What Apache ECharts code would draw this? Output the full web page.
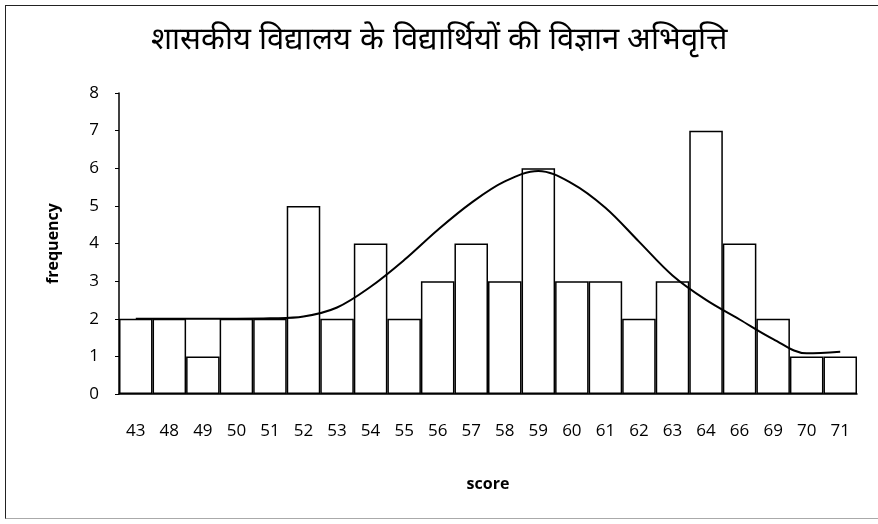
<!DOCTYPE html>
<html lang="hi">
<head>
    <meta charset="UTF-8">
    <title>विज्ञान अभिवृत्ति</title>
    <style>
        html, body { margin: 0; padding: 0; background: #fff; overflow: hidden; }
        .box {
            position: absolute;
            left: 5px;
            top: 5px;
            width: 880px;
            height: 512px;
            border-top: 1.5px solid #222;
            border-left: 1.5px solid #222;
            border-bottom: 1px solid #aaa;
        }
        #chart { position: absolute; left: 0; top: 0; width: 878px; height: 524px; }
    </style>
    <script src="https://cdn.jsdelivr.net/npm/echarts@6/dist/echarts.min.js"></script>
</head>
<body>
    <div class="box"></div>
    <div id="chart"></div>
    <script>
        // अंक (score) और आवृत्ति (frequency)
        const scores = ['43', '48', '49', '50', '51', '52', '53', '54', '55', '56', '57',
                        '58', '59', '60', '61', '62', '63', '64', '66', '69', '70', '71'];
        const frequency = [2, 2, 1, 2, 2, 5, 2, 4, 2, 3, 4, 3, 6, 3, 3, 2, 3, 7, 4, 2, 1, 1];
        // चिकना वक्र (curve)
        const curve = [2, 2, 2, 2, 2.01, 2.06, 2.3, 2.85, 3.56, 4.36, 5.08, 5.65, 5.93,
                       5.6, 4.95, 4.05, 3.15, 2.5, 1.98, 1.46, 1.08, 1.12];
        const yTicks = [0, 1, 2, 3, 4, 5, 6, 7, 8];

        const font = 'Open Sans, Noto Sans, sans-serif';
        let chart = echarts.init(document.getElementById('chart'));

        let option = {
            animation: false,
            title: {
                text: 'शासकीय विद्यालय के विद्यार्थियों की विज्ञान अभिवृत्ति',
                left: 'center',
                top: 20,
                textStyle: { fontSize: 31, fontWeight: 'normal', color: '#000', fontFamily: 'sans-serif' }
            },
            grid: { left: 119, right: 21, top: 93, bottom: 130 },
            xAxis: {
                type: 'category',
                data: scores,
                name: 'score',
                nameLocation: 'middle',
                nameGap: 82,
                nameTextStyle: { fontSize: 16, fontWeight: 'bold', color: '#000', fontFamily: font },
                axisLine: { lineStyle: { color: '#000', width: 1.5 } },
                axisTick: { show: false },
                axisLabel: { margin: 29, fontSize: 17, color: '#000', fontFamily: font, interval: 0 }
            },
            yAxis: {
                type: 'value',
                min: yTicks[0],
                max: yTicks[yTicks.length - 1],
                interval: 1,
                name: 'frequency',
                nameLocation: 'middle',
                nameGap: 58,
                nameTextStyle: { fontSize: 16, fontWeight: 'bold', color: '#000', fontFamily: font },
                axisLine: { show: true, lineStyle: { color: '#000', width: 1.5 } },
                axisTick: { show: true, length: 4, lineStyle: { color: '#000' } },
                splitLine: { show: false },
                axisLabel: { margin: 20, fontSize: 17, color: '#000', fontFamily: font }
            },
            series: [{
                type: 'bar',
                data: frequency,
                barCategoryGap: 0,
                itemStyle: { color: '#fff', borderColor: '#000', borderWidth: 1.5 }
            }, {
                type: 'line',
                data: curve,
                smooth: 0.35,
                showSymbol: false,
                lineStyle: { color: '#000', width: 2 }
            }]
        };

        chart.setOption(option);
    </script>
</body>
</html>
